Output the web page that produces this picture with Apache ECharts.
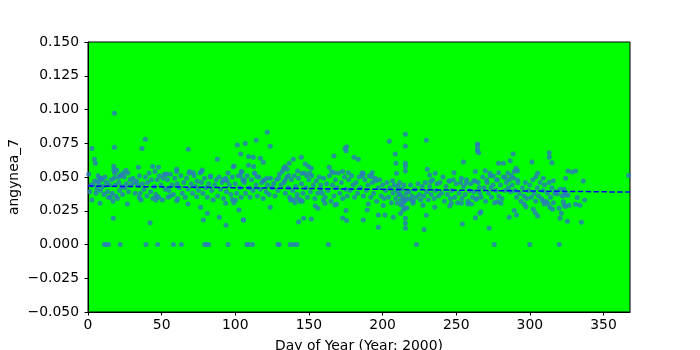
<!DOCTYPE html>
<html>
<head>
<meta charset="utf-8">
<script src="https://cdn.jsdelivr.net/npm/echarts@6/dist/echarts.min.js"></script>
<style>html,body{margin:0;padding:0;background:#fff}#c{width:700px;height:350px}</style>
</head>
<body>
<div id="c"></div>
<script>
// ---- data (day of year, value) ----
const daysA = [2.7,4.3,5,17.9,17.9,38.9,36.7,34.2,43.9,47.8,17.5,17.5,18.2,25.8,24,22.4,20.8,51.8,8.1,9.5,6.6,2,2.7,5.4,8.1,14,17.2,26.7,34.8,36,46.2,46.8,42.1,11.1,12.2,14,21.9,39.4,47.3,
  0.5,1.2,3.5,4.5,6,6.8,7.5,8.5,9,10,10.8,11.5,12.5,13.2,14.5,15.2,15.8,16.5,17,17.8,18.5,19,19.5,20,21,21.5,22,23,23.5,24.5,25,26,27,27.5,28.5,29.5,30.5,31.5,32,33,34,35,35.5,37,38,39,40,40.5,41.5,42.5,43,44,45,45.5,46,47,48,48.5,49.5,50.5,51,52.5,53];
const valsA = [.0712,.0631,.0601,.0972,.072,.0779,.0712,.0572,.0577,.0572,.058,.055,.0527,.055,.053,.0515,.0498,.052,.049,.048,.0466,.044,.033,.038,.0305,.0349,.0194,.030,.0349,.033,.033,.035,.0162,0,0,0,0,0,0,
  .052,.039,.044,.047,.041,.051,.045,.040,.049,.043,.037,.050,.046,.039,.044,.035,.048,.038,.032,.049,.044,.036,.055,.034,.046,.040,.051,.043,.037,.050,.042,.045,.053,.039,.048,.044,.049,.046,.038,.047,.044,.051,.038,.045,.041,.050,.036,.046,.053,.039,.048,.034,.043,.054,.037,.048,.035,.051,.044,.033,.049,.041,.052];

const daysB = [68.1,101.4,87.8,103.7,98.7,99.2,60.2,60.2,77,77.6,53.4,104,103.6,68.6,71.5,83.3,93.5,91.9,94.6,54.3,55.7,60.2,67.9,73.8,76.5,81,78.3,89.2,93.7,93.5,98,100.3,102.5,105.5,58,63.4,79.2,80.6,81.9,95.1,
  54,55,56,57,58,59,60.5,61,62,63,64,65,66,67,68,69,70,71,72,73,74,75,76,77,78,79,80,81,82,83,84,85,86,87,88,89,90,91,92,93,94,95,96,97,98,99,100,101,102,103,104,105];
const valsB = [.0705,.0737,.0631,.067,.0576,.0582,.0557,.054,.0539,.0552,.0522,.054,.051,.0527,.0532,.0507,.049,.048,.047,.035,.036,.0325,.030,.0354,.0276,.0231,.0182,.0201,.0142,.0305,.0334,.033,.0256,.0182,0,0,0,0,0,0,
  .048,.040,.052,.044,.037,.049,.045,.034,.042,.051,.038,.046,.035,.049,.041,.054,.045,.038,.051,.043,.047,.040,.053,.046,.038,.049,.042,.035,.045,.050,.040,.033,.044,.048,.036,.050,.041,.046,.034,.048,.039,.053,.044,.037,.050,.031,.045,.038,.051,.042,.035,.048];

const daysC = [121.7,106.8,114.2,123.7,109,112.2,117,119,139.4,136.6,133.9,132.8,135.3,144.8,147.5,149.8,151.6,142.3,145.2,109,112.4,104.5,106.3,113.1,114.7,121.5,119.2,129.4,133.9,136.2,123.7,105.6,138.9,141.8,144.1,146.4,143,151.6,154.3,156.1,107.9,109,111.7,128.9,129.8,137.3,139.6,141.8,
  106,107,108,109.5,110,111,112,113,114,115,116,117,118,119,120,121,122,123,124,125,126,127,128,129,130,131,132,133,134,135,136,137,138,139,140,141,142,143,144,145,146,147,148,149,150,151,152,153,154,155,156,157,158,137.5,140.5,145.5,148.5,150.5];
const valsC = [.0831,.0749,.0772,.0727,.0651,.0646,.0638,.0609,.0631,.0601,.0577,.0564,.0557,.0646,.0597,.0577,.0564,.0545,.0527,.0587,.0577,.0539,.0478,.0527,.0502,.049,.0473,.049,.0478,.0512,.0276,.0182,.033,.0342,.0334,.0194,.0167,.0189,.0285,.0268,0,0,0,0,0,0,0,0,
  .046,.038,.051,.042,.035,.048,.040,.053,.044,.036,.050,.041,.046,.034,.048,.039,.044,.037,.049,.042,.045,.036,.048,.040,.052,.044,.054,.046,.038,.050,.042,.035,.048,.040,.051,.043,.037,.049,.032,.045,.038,.053,.042,.035,.048,.039,.051,.044,.034,.047,.038,.050,.041,.033,.031,.032,.051,.053];

const daysD = [204.6,174.5,175.2,175.6,167,180.6,183.5,208.6,209.1,163.8,165.4,167,172.9,176.7,186.9,186.5,193,192.6,195.5,206.8,209.5,159.8,160.9,168.8,167.7,175.2,172.9,175.6,186.9,190.3,189.6,197.1,201.6,197.1,200.5,207.3,210,163.2,
  158,159,160,161,162,163,164,165,166,167,168,169,170,171,172,173,174,175,176,177,178,179,180,181,182,183,184,185,186,187,188,189,190,191,192,193,194,195,196,197,198,199,200,201,202,203,204,205,206,207,208,209,210,211];
const valsD = [.0764,.0712,.0695,.0725,.0656,.0646,.0631,.067,.0601,.0572,.054,.0532,.054,.0532,.0527,.0507,.0532,.0502,.0473,.0473,.0527,.033,.0305,.030,.0293,.0251,.0196,.0177,.0182,.030,.0256,.0219,.0219,.0127,.0288,.0201,.0305,0,
  .044,.038,.049,.035,.045,.040,.051,.032,.044,.036,.048,.042,.053,.038,.046,.034,.050,.041,.036,.048,.040,.051,.044,.035,.046,.038,.050,.042,.053,.036,.048,.040,.044,.051,.035,.046,.038,.049,.032,.042,.048,.036,.044,.034,.040,.046,.035,.042,.031,.038,.044,.034,.040,.037];

const daysE = [215.5,215.5,229.7,215.5,215.5,215.5,254.9,264.4,264.4,230.4,235.8,232,232.7,248.5,245.6,253.5,256.9,262.1,263,210.5,215.5,215.5,215.5,215.5,215.5,212.8,213.9,212.3,219.5,220.7,227.5,229.7,235.4,228.2,245.6,246.7,253.5,258,260.3,254.2,263,223,
  211.5,212,212.5,213,213.5,214,214.5,215,216,216.5,217,218,219,220,221,222,223,224,225,226,227,228,229,230,231,232,233,234,235,236,237,238,239,240,241,242,243,244,245,246,247,248,249,250,251,252,253,254,255,256,257,258,259,260,261,262,263,264];
const valsE = [.0816,.0727,.0772,.0601,.0577,.0545,.0611,.0738,.0693,.0557,.0527,.0515,.0466,.0532,.047,.049,.0453,.0473,.054,.0433,.0194,.0157,.012,.033,.027,.029,.0256,.023,.033,.0305,.029,.0216,.0276,.0112,.0285,.0305,.0305,.030,.030,.0152,.0199,0,
  .046,.037,.033,.041,.030,.035,.044,.032,.038,.027,.034,.039,.044,.036,.032,.041,.035,.045,.037,.033,.043,.036,.046,.039,.033,.043,.037,.048,.034,.040,.045,.036,.046,.038,.050,.032,.043,.037,.047,.034,.040,.048,.035,.045,.031,.038,.046,.034,.043,.037,.048,.032,.040,.045,.035,.039,.047,.034];

const daysF = [264.5,264.5,265.2,288.7,286.7,278.8,282,301.4,313.2,313.2,315,290.6,289.4,291.7,269.7,272.9,275.2,278.8,283.3,305.3,304.1,309.1,270.6,277.4,291.7,265.7,273.6,263.4,266.8,266.1,272.4,278.1,280.4,286,289.4,291,296.2,297.3,302.3,303.7,305.3,308.7,309.8,312.1,313.6,315.4,315.9,275.8,300,
  265,266,267,268,269,270,271,272,273,274,275,276,277,278,279,280,281,282,283,284,285,285.5,286,287,287.5,288,289,290,291,292,293,294,295,296,297,298,299,300,301,302,303,304,305,306,307,308,309,310,311,312,313,314,315,316,317];
const valsF = [.0745,.0712,.068,.067,.0621,.0601,.0601,.0611,.068,.0646,.0606,.0564,.054,.0547,.0547,.0527,.0507,.0532,.0497,.0527,.0502,.049,.0478,.0478,.0478,.0423,.0423,.0334,.0243,.0231,.012,.0317,.0305,.0201,.0251,.0219,.030,.028,.0261,.0236,.0211,.0325,.030,.0305,.0276,.0261,.0473,0,0,
  .046,.038,.035,.050,.042,.032,.046,.038,.051,.035,.044,.031,.040,.048,.036,.044,.034,.050,.040,.046,.053,.042,.048,.039,.051,.044,.049,.040,.035,.046,.038,.032,.042,.036,.046,.034,.040,.044,.035,.048,.038,.032,.042,.036,.046,.034,.040,.044,.032,.038,.046,.035,.042,.031,.038];

const daysG = [325.9,328.8,331.1,324.3,336.3,367,323.2,318.7,324.3,325.9,332.2,337.2,322.7,323.2,324.3,326.6,331.1,334,319.8,321.4,320.5,325.5,335,320,317.5,320.5,322,323.5];
const valsG = [.0545,.0537,.0545,.049,.047,.0512,.0409,.0374,.0367,.0367,.0349,.033,.0317,.0293,.0281,.0291,.0298,.0291,.0268,.0231,.0194,.0172,.0164,0,.039,.041,.036,.038];

// dashed trend line end points
const trendX = [0, 368];
const trendY = [0.0433, 0.0388];

const xTicks = [0, 50, 100, 150, 200, 250, 300, 350];
const yTicks = [-0.05, -0.025, 0, 0.025, 0.05, 0.075, 0.1, 0.125, 0.15];

const allDays = [].concat(daysA, daysB, daysC, daysD, daysE, daysF, daysG);
const allVals = [].concat(valsA, valsB, valsC, valsD, valsE, valsF, valsG);
const points = [];
for (let i = 0; i < Math.min(allDays.length, allVals.length); i++) points.push([allDays[i], allVals[i]]);

const FONT = 'DejaVu Sans';
const chart = echarts.init(document.getElementById('c'), null, {renderer: 'canvas'});
chart.setOption({
  animation: false,
  backgroundColor: '#ffffff',
  grid: {left: 88, right: 70, top: 42, bottom: 38, show: true, backgroundColor: '#00ff00', borderColor: '#000', borderWidth: 1,
         containLabel: false, outerBoundsMode: 'none'},
  xAxis: {
    type: 'value', min: 0, max: 368, interval: 50,
    name: 'Day of Year (Year: 2000)', nameLocation: 'middle', nameGap: 27, nameMoveOverlap: false,
    nameTextStyle: {fontFamily: FONT, fontSize: 13.9, color: '#000'},
    axisLine: {show: true, onZero: false, lineStyle: {color: '#000', width: 1}},
    axisTick: {show: true, length: 3.5, inside: false, lineStyle: {color: '#000'}, customValues: xTicks},
    axisLabel: {fontFamily: FONT, fontSize: 13.9, color: '#000', margin: 6, customValues: xTicks},
    splitLine: {show: false}
  },
  yAxis: {
    type: 'value', min: -0.05, max: 0.15, interval: 0.025,
    name: 'angynea_7', nameLocation: 'middle', nameGap: 67, nameMoveOverlap: false,
    nameTextStyle: {fontFamily: FONT, fontSize: 13.9, color: '#000'},
    axisLine: {show: true, onZero: false, lineStyle: {color: '#000', width: 1}},
    axisTick: {show: true, length: 3.5, lineStyle: {color: '#000'}, customValues: yTicks},
    axisLabel: {fontFamily: FONT, fontSize: 13.9, color: '#000', margin: 9, customValues: yTicks,
      formatter: v => v.toFixed(3).replace('-', '\u2212')},
    splitLine: {show: false}
  },
  series: [
    {type: 'scatter', data: points, symbol: 'circle', symbolSize: 5,
     itemStyle: {color: '#2b7bba'}, z: 2},
    {type: 'line', data: trendX.map((x, i) => [x, trendY[i]]), symbol: 'none',
     lineStyle: {color: '#0000ff', width: 1.5, type: [5.5, 2.4]}, z: 3}
  ]
});
</script>
</body>
</html>
